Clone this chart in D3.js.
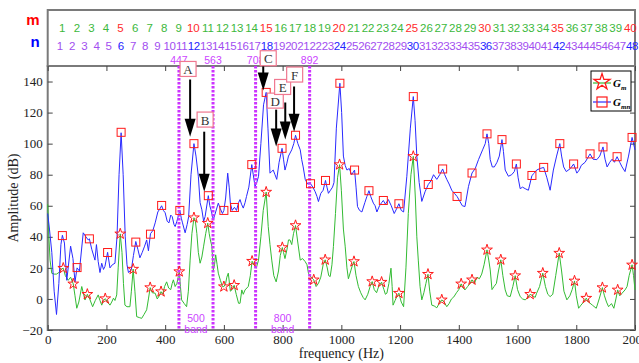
<!DOCTYPE html>
<html lang="en">
<head>
  <meta charset="UTF-8">
  <title>Gm / Gmn spectrum</title>
  <script src="https://cdn.jsdelivr.net/npm/d3@7/dist/d3.min.js"></script>
  <style>
    body { margin: 0; background: #fff; }
    svg { display: block; }
    .axis text { font-family: "Liberation Serif", "Times New Roman", serif; font-size: 13px; fill: #222; }
    .axis path { display: none; }
    .axis line { stroke: #444; }
    .hdr { font-family: "Liberation Sans", Arial, sans-serif; font-size: 11.5px; }
  </style>
</head>
<body>
<svg id="chart" width="639" height="363"></svg>

<script>
  // header labels (m row / n row)
  var mLabels = [1,2,3,4,5,6,7,8,9,10,11,12,13,14,15,16,17,18,19,20,21,22,23,24,25,26,27,28,29,30,31,32,33,34,35,36,37,38,39,40];
  var nLabels = [1,2,3,4,5,6,7,8,9,10,11,12,13,14,15,16,17,18,19,20,21,22,23,24,25,26,27,28,29,30,31,32,33,34,35,36,37,38,39,40,41,42,43,44,45,46,47,48];
  var mStep = 49.6, nStep = 41.45;   // Hz between header labels

  var xTicks = [0,200,400,600,800,1000,1200,1400,1600,1800,2000];
  var yTicks = [-20,0,20,40,60,80,100,120,140];

  // band limits (Hz)
  var bandLines = [447, 563, 708, 892];
  var bandNames = [{f: 505, name: "500"}, {f: 800, name: "800"}];

  // G_m curve (green) [Hz, dB]
  var gmLine = [[0,61],[4,40],[8,25],[14,16.5],[22,16],[30,16],[38,17],[45,19],[53,19.8],[60,15],[70,12],[78,14],[87,9.7],[93,2],[99,-6],[106,-2],[116,8],[121,4],[127,-0.7],[135,3],[143,0],[153,-5],[162,-1],[172,2.6],[178,-1],[184,-4],[190,-1],[196,0.2],[204,-2],[212,-4],[218,-2],[224,0.5],[229,-1],[235,2.6],[240,20],[247,41.9],[253,30],[258,10],[263,-4],[270,-5],[280,-5],[285,5],[291,19.2],[297,5],[303,-11.4],[312,-12],[320,-12.5],[328,-10],[337,-7],[343,0],[349,7.3],[356,4],[366,3.7],[373,0],[380,2],[386,4.7],[392,3],[398,8],[405,11],[412,7],[419,6],[424,10],[428,12.3],[434,8],[440,10],[448,17.6],[452,8],[456,-0.6],[465,-3],[473,-5],[479,5],[485,25],[491,42],[498,52.3],[503,50],[508,42],[513,30],[519,23],[525,27],[531,34],[538,42],[545,48.8],[550,42],[554,38],[559,34],[564,18.7],[568,22],[572,28.4],[577,22],[581,16.6],[588,12],[595,8],[600,7.9],[606,10],[610,14],[615,16.6],[619,10],[622,5],[628,6],[635,8.8],[642,3],[650,-2.8],[655,-2.8],[661,5.8],[666,3],[672,5.8],[683,8],[690,15],[696,24.3],[703,22],[710,19.8],[718,25],[726,40],[734,57],[744,68.8],[751,46.6],[757,35],[763,25],[770,15],[778,11],[786,18],[792,28],[799,33.1],[803,30],[808,26],[815,32],[820,38],[825,38],[831,35],[837,42],[844,47.3],[852,36],[860,25],[868,26],[877,24],[883,22],[888,16.6],[897,14],[906,12.3],[914,8],[922,10],[930,14],[938,22],[945,25.2],[952,20],[957,15],[962,14.4],[968,22],[973,33.7],[980,55],[987,78],[994,86.5],[1000,70],[1007,45],[1013,34],[1019,20],[1024,13],[1032,18],[1038,22],[1043,24.1],[1050,15],[1058,8],[1066,4],[1074,1],[1081,-0.6],[1090,3],[1098,8],[1105,11.2],[1112,6],[1120,4],[1127,8],[1137,10.8],[1145,6],[1150,3],[1155,3.7],[1162,10],[1169,19.8],[1173,8],[1176,-4],[1183,-1],[1190,2],[1196,3.7],[1204,-2],[1212,-5],[1220,20],[1228,55],[1237,80],[1245,91.8],[1252,65],[1257,40],[1262,25],[1268,8],[1274,-0.6],[1281,4],[1288,10],[1295,15.9],[1301,5],[1308,-4],[1316,-4.5],[1325,-5.7],[1333,-3],[1342,-0.6],[1350,-2],[1359,-5],[1367,-3],[1375,0],[1383,1.3],[1392,4],[1400,6],[1408,9.7],[1415,7],[1421,5.8],[1430,8],[1438,10],[1445,12.3],[1453,10],[1462,14],[1470,13],[1478,16],[1486,22],[1496,31.6],[1502,25],[1507,18.7],[1513,6],[1520,8],[1528,10],[1535,18],[1543,25.2],[1550,15],[1558,5.8],[1565,2],[1575,1.5],[1584,8],[1592,15],[1600,6],[1609,1.5],[1617,0],[1626,-0.6],[1635,1],[1643,3],[1652,2],[1660,1],[1665,3.7],[1675,8],[1686,16.6],[1695,8],[1703,3],[1711,1.5],[1720,3],[1730,15],[1742,29.5],[1750,18],[1758,5],[1768,-0.6],[1778,2],[1786,6],[1794,11.6],[1800,2],[1808,-6],[1816,-4],[1825,-2],[1834,0.5],[1842,-2],[1855,-4],[1868,-6],[1878,0],[1889,7.3],[1896,2],[1903,-2],[1910,-5],[1920,-3],[1928,-6],[1935,0],[1941,5.8],[1948,2],[1956,3.7],[1966,5.8],[1973,8],[1980,15],[1990,22],[1995,15],[2000,5.8]];

  // G_mn curve (blue) [Hz, dB]
  var gmnLine = [[0,55],[6,45],[14,30],[22,5],[30,-10],[38,10],[45,35],[50,41],[57,36],[65,12],[78,34],[86,26],[93,11],[100,20],[108,18],[121,42.6],[130,40],[138,38],[142,38.7],[150,32],[161,25],[166,35],[172,24],[178,17],[184,23],[190,19],[195,21],[204,30],[212,20],[220,22],[229,23],[236,40],[243,80],[250,107],[257,80],[264,40],[270,22],[275,17],[285,19],[292,28],[300,37],[307,32],[314,26.5],[322,30],[330,34],[337,38],[343,31],[350,42],[358,44],[366,49],[375,56],[382,58],[388,60],[394,57],[400,55.5],[407,50],[413,49],[419,54],[424,53],[430,48],[434,46.6],[440,50],[450,57],[455,52],[459,49],[468,42.6],[475,48],[480,53],[488,80],[498,100],[505,92],[513,79],[519,62],[525,57.4],[531,50],[536,53],[547,66.5],[552,60],[556,57.4],[564,51],[572,56],[581,61.7],[588,58],[595,55],[600,57],[606,65],[613,81],[618,72],[622,61.7],[628,57],[636,59],[643,57],[650,62],[655,64],[660,61],[666,58.5],[672,62],[677,66],[685,72],[695,86.5],[700,80],[706,72.5],[712,75],[718,79],[726,100],[735,125],[744,133],[750,110],[757,81],[762,82],[768,83],[774,80],[780,77],[788,88],[798,97],[803,90],[808,83],[814,87],[820,92],[831,96],[838,100],[844,105.4],[852,100],[860,96],[865,89.7],[870,85],[877,77],[885,74],[895,74.2],[903,72],[911,69],[917,66],[922,62.7],[930,68],[938,70],[946,76.3],[951,72],[956,68],[963,70],[970,72],[975,75],[983,110],[995,138.9],[1001,120],[1007,92],[1013,86],[1019,83],[1027,84],[1035,80],[1045,83],[1050,72],[1055,59.5],[1062,57],[1070,56],[1080,62],[1087,66],[1094,69.7],[1100,66],[1109,61.7],[1115,60],[1121,56],[1130,60],[1137,62],[1143,63.4],[1150,61],[1160,64],[1170,60],[1180,55],[1188,58],[1196,61.3],[1204,57],[1212,56],[1223,79],[1235,110],[1245,130.3],[1251,115],[1257,92],[1265,75],[1274,62.8],[1285,69],[1296,73.7],[1305,76],[1314,80],[1325,77],[1335,80],[1345,83.7],[1352,80],[1359,77],[1367,74],[1376,70],[1385,68],[1394,66],[1403,63],[1412,60],[1421,59.5],[1433,72.5],[1445,81.1],[1456,84],[1467,89.7],[1481,96],[1490,100],[1496,106.3],[1502,100],[1507,89.7],[1514,85],[1521,85],[1530,88],[1538,92],[1547,102.6],[1552,95],[1558,83],[1569,79],[1580,80],[1589,82],[1596,86.9],[1602,78],[1609,71],[1617,72],[1626,71],[1637,70],[1649,79.5],[1657,81],[1665,83],[1677,84],[1689,84.7],[1700,78],[1711,70],[1722,83],[1733,92],[1744,100],[1750,92],[1757,85],[1766,82],[1780,84],[1791,86.9],[1802,81],[1810,83],[1817,86],[1830,88],[1847,93.4],[1857,90],[1870,89.7],[1880,92],[1891,97.9],[1898,90],[1905,85],[1914,88],[1922,90],[1930,88],[1939,91.6],[1948,88],[1956,85],[1966,82],[1978,92],[1990,104],[2000,96]];

  // marker points
  var starFreq = [53,87,135,196,247,291,349,386,448,498,545,600,635,696,744,799,844,906,945,994,1043,1105,1137,1196,1245,1295,1342,1408,1445,1496,1543,1592,1643,1686,1742,1794,1834,1889,1941,1990];
  var starAmp  = [19.8,9.7,3,0.2,41.9,19.2,7.3,4.7,17.6,52.3,48.8,7.9,8.8,24.3,68.8,33.1,47.3,12.3,25.2,86.5,24.1,11.2,10.8,3.7,91.8,15.9,-0.6,9.7,12.3,31.6,25.2,15,3,16.6,29.5,11.6,0.5,7.3,5.8,21.9];
  var squareFreq = [50,100,142,204,250,300,350,388,450,498,547,600,636,695,744,798,844,895,946,995,1045,1094,1143,1196,1245,1296,1345,1394,1445,1496,1547,1596,1649,1689,1744,1791,1847,1891,1939,1990];
  var squareAmp  = [40.8,20.2,38.7,29.9,107.3,36.6,41.7,60.2,57,100,66.5,57,58.9,86.5,133,97,105.4,74.2,76.3,138.9,83,69.7,63.4,61.3,130.3,73.7,83.7,66,81.1,106.3,102.6,86.9,79.5,84.7,100,86.9,93.4,97.9,91.6,104];

  // labelled arrows: box at (bf, bv), arrow at af from v1 down to v2
  var notes = [
    {t: "A", bf: 478, bv: 148.1, af: 485, v1: 141.3, v2: 104.5},
    {t: "B", bf: 536, bv: 115.5, af: 533, v1: 107.7, v2: 69},
    {t: "C", bf: 751, bv: 155,   af: 734, v1: 151.6, v2: 134.2},
    {t: "D", bf: 775, bv: 127.7, af: 778, v1: 121.9, v2: 98.1},
    {t: "E", bf: 800, bv: 136.5, af: 809, v1: 126.5, v2: 102.6},
    {t: "F", bf: 841, bv: 144.5, af: 839, v1: 136.8, v2: 107.7}
  ];

  var padL = 47.7, padR = 635, plotTop = 66, plotBottom = 330, hdrTop = 10;

  var svg = d3.select("#chart");

  var x = d3.scaleLinear().domain([0, 2000]).range([padL, padR]);
  var y = d3.scaleLinear().domain([-20, 150]).range([plotBottom, plotTop]);

  // header box
  svg.append("rect")
    .attr("x", padL).attr("y", hdrTop)
    .attr("width", padR - padL).attr("height", plotTop - hdrTop)
    .attr("fill", "none").attr("stroke", "#7a7a7a").attr("stroke-width", 2);

  svg.append("text").attr("x", 33).attr("y", 25).attr("text-anchor", "middle")
    .attr("font-family", "Liberation Sans, Arial, sans-serif").attr("font-weight", "bold")
    .attr("font-size", 15).attr("fill", "#ff0000").text("m");
  svg.append("text").attr("x", 35).attr("y", 47).attr("text-anchor", "middle")
    .attr("font-family", "Liberation Sans, Arial, sans-serif").attr("font-weight", "bold")
    .attr("font-size", 15).attr("fill", "#0000ff").text("n");

  svg.append("g").selectAll("text")
    .data(mLabels).enter().append("text")
    .attr("class", "hdr")
    .attr("x", function(d) { return x(d * mStep); })
    .attr("y", 31.5)
    .attr("text-anchor", "middle")
    .attr("fill", function(d) { return d % 5 === 0 ? "#ff2a2a" : "#3cb83c"; })
    .text(function(d) { return d; });

  svg.append("g").selectAll("text")
    .data(nLabels).enter().append("text")
    .attr("class", "hdr")
    .attr("x", function(d) { return x(d * nStep); })
    .attr("y", 49.5)
    .attr("text-anchor", "middle")
    .attr("letter-spacing", -0.4)
    .attr("fill", function(d) { return d % 6 === 0 ? "#2424ff" : "#a24ef0"; })
    .text(function(d) { return d; });

  // band limit labels (sit just above the plot frame)
  svg.append("g").selectAll("text")
    .data(bandLines).enter().append("text")
    .attr("x", function(d) { return x(d); })
    .attr("y", 64)
    .attr("text-anchor", "middle")
    .attr("font-family", "Liberation Sans, Arial, sans-serif")
    .attr("font-size", 10.5)
    .attr("fill", "#cc44ff")
    .text(function(d) { return d; });

  // plot frame
  svg.append("rect")
    .attr("x", padL).attr("y", plotTop)
    .attr("width", padR - padL).attr("height", plotBottom - plotTop)
    .attr("fill", "none").attr("stroke", "#7a7a7a").attr("stroke-width", 2);

  // axes (ticks pointing inward)
  svg.append("g").attr("class", "axis")
    .attr("transform", "translate(0," + plotBottom + ")")
    .call(d3.axisBottom(x).tickValues(xTicks).tickFormat(d3.format("d")).tickSize(-5).tickPadding(5));
  svg.append("g").attr("class", "axis")
    .attr("transform", "translate(0," + plotTop + ")")
    .call(d3.axisTop(x).tickValues(xTicks).tickSize(-5).tickFormat(""));
  svg.append("g").attr("class", "axis")
    .attr("transform", "translate(" + padL + ",0)")
    .call(d3.axisLeft(y).tickValues(yTicks).tickSize(-5).tickPadding(5));
  svg.append("g").attr("class", "axis")
    .attr("transform", "translate(" + padR + ",0)")
    .call(d3.axisRight(y).tickValues(yTicks).tickSize(-5).tickFormat(""));

  svg.append("text")
    .attr("x", (padL + padR) / 2).attr("y", 358)
    .attr("text-anchor", "middle")
    .attr("font-family", "Liberation Serif, Times New Roman, serif")
    .attr("font-size", 14).attr("fill", "#222")
    .text("frequency (Hz)");
  svg.append("text")
    .attr("transform", "translate(18," + ((plotTop + plotBottom) / 2) + ") rotate(-90)")
    .attr("text-anchor", "middle")
    .attr("font-family", "Liberation Serif, Times New Roman, serif")
    .attr("font-size", 14).attr("fill", "#222")
    .text("Amplitude (dB)");

  // curves
  var line = d3.line()
    .x(function(d) { return x(d[0]); })
    .y(function(d) { return y(d[1]); });

  var plot = svg.append("g");
  plot.append("path").datum(gmLine)
    .attr("d", line).attr("fill", "none")
    .attr("stroke", "#33bb33").attr("stroke-width", 1);
  plot.append("path").datum(gmnLine)
    .attr("d", line).attr("fill", "none")
    .attr("stroke", "#2a2aff").attr("stroke-width", 1);

  // band lines
  plot.selectAll("line.band")
    .data(bandLines).enter().append("line")
    .attr("class", "band")
    .attr("x1", function(d) { return x(d); })
    .attr("x2", function(d) { return x(d); })
    .attr("y1", plotTop).attr("y2", plotBottom)
    .attr("stroke", "#cc33ff").attr("stroke-width", 3)
    .attr("stroke-dasharray", "2.5,1.5");

  bandNames.forEach(function(b) {
    plot.append("text").attr("x", x(b.f)).attr("y", 322)
      .attr("text-anchor", "middle").attr("font-family", "Liberation Sans, Arial, sans-serif")
      .attr("font-size", 10.5).attr("fill", "#cc44ff").text(b.name);
    plot.append("text").attr("x", x(b.f)).attr("y", 333)
      .attr("text-anchor", "middle").attr("font-family", "Liberation Sans, Arial, sans-serif")
      .attr("font-size", 10.5).attr("fill", "#cc44ff").text("band");
  });

  // markers
  var star = d3.symbol().type(d3.symbolStar).size(36);
  plot.selectAll("path.star")
    .data(starFreq).enter().append("path")
    .attr("class", "star")
    .attr("d", star)
    .attr("transform", function(d, i) { return "translate(" + x(d) + "," + y(starAmp[i]) + ")"; })
    .attr("fill", "none").attr("stroke", "#ff1a1a").attr("stroke-width", 1);

  plot.selectAll("rect.sq")
    .data(squareFreq).enter().append("rect")
    .attr("class", "sq")
    .attr("x", function(d) { return x(d) - 4; })
    .attr("y", function(d, i) { return y(squareAmp[i]) - 4; })
    .attr("width", 8).attr("height", 8)
    .attr("fill", "none").attr("stroke", "#ff1a1a").attr("stroke-width", 1);

  // annotations
  var ann = svg.append("g");
  notes.forEach(function(n) {
    var ax = x(n.af), y1 = y(n.v1), y2 = y(n.v2);
    ann.append("line").attr("x1", ax).attr("x2", ax)
      .attr("y1", y1).attr("y2", y2 - 16)
      .attr("stroke", "#000").attr("stroke-width", 2);
    ann.append("path")
      .attr("d", "M" + (ax - 5.5) + "," + (y2 - 18) + "L" + (ax + 5.5) + "," + (y2 - 18) + "L" + ax + "," + y2 + "Z")
      .attr("fill", "#000");
    var bx = x(n.bf), by = y(n.bv);
    ann.append("rect").attr("x", bx - 8).attr("y", by - 7.5)
      .attr("width", 16).attr("height", 15)
      .attr("fill", "#fff").attr("stroke", "#f07890").attr("stroke-width", 1.2);
    ann.append("text").attr("x", bx).attr("y", by + 5)
      .attr("text-anchor", "middle")
      .attr("font-family", "Liberation Serif, Times New Roman, serif")
      .attr("font-size", 13).attr("fill", "#333").text(n.t);
  });

  // legend
  var lg = svg.append("g").attr("transform", "translate(591,71)");
  lg.append("rect").attr("width", 40).attr("height", 40)
    .attr("fill", "#fff").attr("stroke", "#000").attr("stroke-width", 1);
  lg.append("line").attr("x1", 2).attr("x2", 20).attr("y1", 12).attr("y2", 12)
    .attr("stroke", "#33bb33").attr("stroke-width", 1.2);
  lg.append("path").attr("d", d3.symbol().type(d3.symbolStar).size(80))
    .attr("transform", "translate(11,11)")
    .attr("fill", "none").attr("stroke", "#ff1a1a").attr("stroke-width", 1.3);
  lg.append("line").attr("x1", 2).attr("x2", 20).attr("y1", 31).attr("y2", 31)
    .attr("stroke", "#2a2aff").attr("stroke-width", 1.2);
  lg.append("rect").attr("x", 6).attr("y", 26).attr("width", 10).attr("height", 10)
    .attr("fill", "none").attr("stroke", "#ff1a1a").attr("stroke-width", 1.2);

  var lt1 = lg.append("text").attr("x", 22).attr("y", 16)
    .attr("font-family", "Liberation Serif, Times New Roman, serif")
    .attr("font-weight", "bold").attr("font-style", "italic").attr("font-size", 11);
  lt1.append("tspan").text("G");
  lt1.append("tspan").attr("dy", 3).attr("font-size", 7).text("m");
  var lt2 = lg.append("text").attr("x", 22).attr("y", 35)
    .attr("font-family", "Liberation Serif, Times New Roman, serif")
    .attr("font-weight", "bold").attr("font-style", "italic").attr("font-size", 11);
  lt2.append("tspan").text("G");
  lt2.append("tspan").attr("dy", 3).attr("font-size", 7).text("mn");
</script>

</body>
</html>
